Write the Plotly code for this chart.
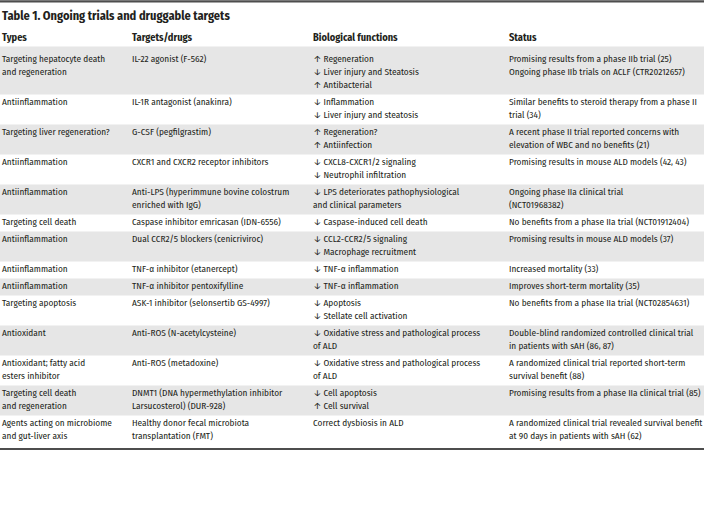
import plotly.graph_objects as go

title = "Table 1. Ongoing trials and druggable targets"
headers = ["Types", "Targets/drugs", "Biological functions", "Status"]

types = [
    "Targeting hepatocyte death<br>and regeneration",
    "Antiinflammation",
    "Targeting liver regeneration?",
    "Antiinflammation",
    "Antiinflammation",
    "Targeting cell death",
    "Antiinflammation",
    "Antiinflammation",
    "Antiinflammation",
    "Targeting apoptosis",
    "Antioxidant",
    "Antioxidant; fatty acid<br>esters inhibitor",
    "Targeting cell death<br>and regeneration",
    "Agents acting on microbiome<br>and gut-liver axis",
]

targets = [
    "IL-22 agonist (F-562)",
    "IL-1R antagonist (anakinra)",
    "G-CSF (pegfilgrastim)",
    "CXCR1 and CXCR2 receptor inhibitors",
    "Anti-LPS (hyperimmune bovine colostrum<br>enriched with IgG)",
    "Caspase inhibitor emricasan (IDN-6556)",
    "Dual CCR2/5 blockers (cenicriviroc)",
    "TNF-α inhibitor (etanercept)",
    "TNF-α inhibitor pentoxifylline",
    "ASK-1 inhibitor (selonsertib GS-4997)",
    "Anti-ROS (N-acetylcysteine)",
    "Anti-ROS (metadoxine)",
    "DNMT1 (DNA hypermethylation inhibitor<br>Larsucosterol) (DUR-928)",
    "Healthy donor fecal microbiota<br>transplantation (FMT)",
]

functions = [
    "↑ Regeneration<br>↓ Liver injury and Steatosis<br>↑ Antibacterial",
    "↓ Inflammation<br>↓ Liver injury and steatosis",
    "↑ Regeneration?<br>↑ Antiinfection",
    "↓ CXCL8-CXCR1/2 signaling<br>↓ Neutrophil infiltration",
    "↓ LPS deteriorates pathophysiological<br>and clinical parameters",
    "↓ Caspase-induced cell death",
    "↓ CCL2-CCR2/5 signaling<br>↓ Macrophage recruitment",
    "↓ TNF-α inflammation",
    "↓ TNF-α inflammation",
    "↓ Apoptosis<br>↓ Stellate cell activation",
    "↓ Oxidative stress and pathological process<br>of ALD",
    "↓ Oxidative stress and pathological process<br>of ALD",
    "↓ Cell apoptosis<br>↑ Cell survival",
    "Correct dysbiosis in ALD",
]

status = [
    "Promising results from a phase IIb trial (25)<br>Ongoing phase IIb trials on ACLF (CTR20212657)",
    "Similar benefits to steroid therapy from a phase II<br>trial (34)",
    "A recent phase II trial reported concerns with<br>elevation of WBC and no benefits (21)",
    "Promising results in mouse ALD models (42, 43)",
    "Ongoing phase IIa clinical trial<br>(NCT01968382)",
    "No benefits from a phase IIa trial (NCT01912404)",
    "Promising results in mouse ALD models (37)",
    "Increased mortality (33)",
    "Improves short-term mortality (35)",
    "No benefits from a phase IIa trial (NCT02854631)",
    "Double-blind randomized controlled clinical trial<br>in patients with sAH (86, 87)",
    "A randomized clinical trial reported short-term<br>survival benefit (88)",
    "Promising results from a phase IIa clinical trial (85)",
    "A randomized clinical trial revealed survival benefit<br>at 90 days in patients with sAH (62)",
]

W, H = 704, 510
FONT = "Fira Sans Condensed, Roboto Condensed, sans-serif"
FS = 9.25
LH = 13.0
PAD = 4.0
TOP = 51.5
TXT = "#231f20"
col_x = [2, 132, 313, 509]
columns = [types, targets, functions, status]

split = [[c.split("<br>") for c in col] for col in columns]
nlines = [max(len(split[k][i]) for k in range(4)) for i in range(len(types))]

tops = []
y = TOP
for n in nlines:
    tops.append(y)
    y += n * LH + PAD
bottom = y

fig = go.Figure()
shapes = []
for i, (t, n) in enumerate(zip(tops, nlines)):
    if i % 2 == 0:
        y0 = t - 5 if i == 0 else t
        shapes.append(dict(type="rect", xref="x", yref="y", x0=0, x1=W,
                           y0=y0, y1=t + n * LH + PAD, fillcolor="#e6e6e6",
                           line=dict(width=0), layer="below"))
# top and bottom rules of the table
shapes.append(dict(type="rect", xref="paper", yref="y", x0=0, x1=1, y0=0.3, y1=2.6,
                   fillcolor="#4d4d4d", line=dict(width=0), layer="above"))
shapes.append(dict(type="rect", xref="paper", yref="y", x0=0, x1=1, y0=bottom + 2.5, y1=bottom + 4.5,
                   fillcolor="#4d4d4d", line=dict(width=0), layer="above"))

for cx, col in zip(col_x, split):
    xs, ys, ts = [], [], []
    for t, lines in zip(tops, col):
        for j, line in enumerate(lines):
            xs.append(cx)
            ys.append(t + PAD / 2 + LH * (j + 0.5))
            ts.append(line)
    fig.add_trace(go.Scatter(x=xs, y=ys, text=ts, mode="text",
                             textposition="middle right", marker=dict(size=1),
                             textfont=dict(family=FONT, size=FS, color=TXT),
                             hoverinfo="skip", showlegend=False))

fig.add_trace(go.Scatter(x=col_x, y=[38.5] * 4, text=[f"<b>{h}</b>" for h in headers],
                         mode="text", textposition="middle right", marker=dict(size=1),
                         textfont=dict(family=FONT, size=10.3, color=TXT),
                         hoverinfo="skip", showlegend=False))
fig.add_trace(go.Scatter(x=[2], y=[17], text=[f"<b>{title}</b>"], mode="text",
                         textposition="middle right", marker=dict(size=1),
                         textfont=dict(family=FONT, size=12.3, color=TXT),
                         hoverinfo="skip", showlegend=False))

fig.update_layout(width=W, height=H, margin=dict(l=0, r=0, t=0, b=0),
                  paper_bgcolor="white", plot_bgcolor="white", shapes=shapes,
                  xaxis=dict(range=[0, W], visible=False, fixedrange=True),
                  yaxis=dict(range=[H, 0], visible=False, fixedrange=True))
fig.write_html("out.html", config={"displayModeBar": False, "staticPlot": True})

with open("out.html", encoding="utf-8") as f:
    html = f.read()
html = html.replace("<head>", "<head><style>html,body{margin:0;padding:0;overflow:hidden;}</style>", 1)
with open("out.html", "w", encoding="utf-8") as f:
    f.write(html)
